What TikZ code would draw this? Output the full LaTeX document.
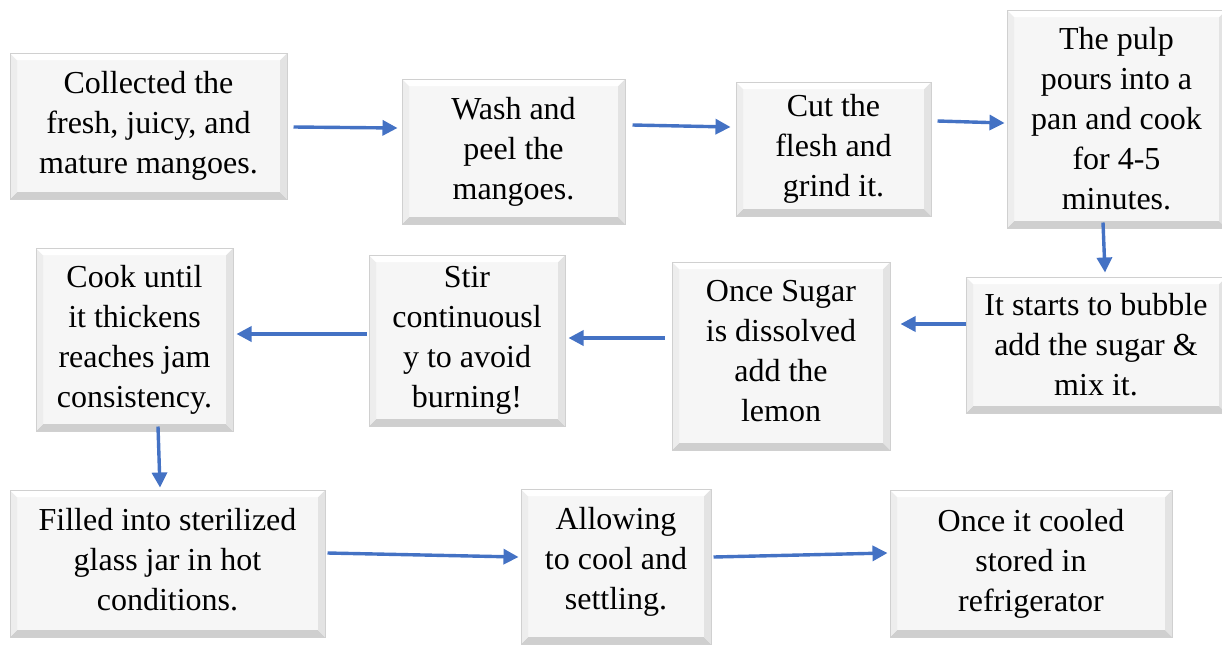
\documentclass[tikz,border=0pt]{standalone}
\usepackage{fontspec}
\setmainfont{Liberation Serif}
\usetikzlibrary{arrows.meta,calc,positioning}
\definecolor{flowblue}{RGB}{68,114,196}
\definecolor{boxfill}{RGB}{246,246,246}
\tikzset{
  stage/.style={draw={rgb,255:red,208;green,208;blue,208}, line width=1pt, fill=boxfill, inner sep=0pt,
    align=center, font=\fontsize{32}{40}\selectfont,
    path picture={
      \fill[gray!38] (path picture bounding box.south west) -- (path picture bounding box.south east)
        -- ([shift={(-7pt,7pt)}]path picture bounding box.south east) -- ([shift={(7pt,7pt)}]path picture bounding box.south west) -- cycle;
      \fill[gray!22] (path picture bounding box.south east) -- (path picture bounding box.north east)
        -- ([shift={(-7pt,-7pt)}]path picture bounding box.north east) -- ([shift={(-7pt,7pt)}]path picture bounding box.south east) -- cycle;
      \fill[gray!14] (path picture bounding box.south west) -- (path picture bounding box.north west)
        -- ([shift={(7pt,-7pt)}]path picture bounding box.north west) -- ([shift={(7pt,7pt)}]path picture bounding box.south west) -- cycle;
      \fill[white] (path picture bounding box.north west) -- (path picture bounding box.north east)
        -- ([shift={(-7pt,-7pt)}]path picture bounding box.north east) -- ([shift={(7pt,-7pt)}]path picture bounding box.north west) -- cycle;
    }},
  flow/.style={-{Triangle[length=15pt,width=15pt]}, line width=3.4pt, flowblue}
}
\begin{document}
\begin{tikzpicture}[x=1pt,y=-1pt]
  \useasboundingbox (0,0) rectangle (1222,646);
  % first row
  \node[stage, minimum width=277pt, minimum height=146pt] (collect) at (148.5,126) {Collected the\\fresh, juicy, and\\mature mangoes.};
  \node[stage, minimum width=223pt, minimum height=145pt] (wash) at (513.5,151.5) {Wash and\\peel the\\mangoes.};
  \node[stage, minimum width=195pt, minimum height=134pt] (cut) at (833.5,149) {Cut the\\flesh and\\grind it.};
  \node[stage, minimum width=219pt, minimum height=218pt] (pulp) at (1116.5,119) {The pulp\\pours into a\\pan and cook\\for 4-5\\minutes.};
  % second row
  \node[stage, minimum width=260pt, minimum height=136pt] (bubble) at (1096,345) {It starts to bubble\\add the sugar \&\\mix it.};
  \node[stage, minimum width=218pt, minimum height=188pt] (sugar) at (781,356) {Once Sugar\\is dissolved\\add the\\lemon\\[-30pt]};
  \node[stage, minimum width=196pt, minimum height=171pt] (stir) at (467,340.5) {Stir\\continuousl\\y to avoid\\burning!};
  \node[stage, minimum width=197pt, minimum height=183pt] (cook) at (134.5,339.5) {Cook until\\it thickens\\reaches jam\\consistency.};
  % third row
  \node[stage, minimum width=315pt, minimum height=147pt] (fill) at (167.5,563.5) {Filled into sterilized\\glass jar in hot\\conditions.\\[-32pt]};
  \node[stage, minimum width=190pt, minimum height=155pt] (cool) at (616,566.5) {Allowing\\to cool and\\settling.\\[-24pt]};
  \node[stage, minimum width=282pt, minimum height=147pt] (store) at (1031,563.5) {Once it cooled\\stored in\\refrigerator};
  % connectors
  \draw[flow] ([xshift=6pt,yshift=-1pt]collect.east) -- ([xshift=-4pt,yshift=23.5pt]wash.west);
  \draw[flow] ([xshift=7pt,yshift=26.5pt]wash.east) -- ([xshift=-5pt,yshift=22pt]cut.west);
  \draw[flow] ([xshift=6pt,yshift=28pt]cut.east) -- ([xshift=-2pt,yshift=-4pt]pulp.west);
  \draw[flow] ([xshift=-13.5pt,yshift=6pt]pulp.south) -- ([xshift=9pt,yshift=4pt]bubble.north);
  \draw[flow] ([yshift=21pt]bubble.west) -- ([xshift=10pt,yshift=32pt]sugar.east);
  \draw[flow] ([xshift=-7pt,yshift=18pt]sugar.west) -- ([xshift=3pt,yshift=2.5pt]stir.east);
  \draw[flow] ([xshift=-2pt,yshift=6.5pt]stir.west) -- ([xshift=3pt,yshift=5.5pt]cook.east);
  \draw[flow] ([xshift=23.5pt,yshift=5pt]cook.south) -- ([xshift=-7.5pt,yshift=2pt]fill.north);
  \draw[flow] ([xshift=2pt,yshift=10.5pt]fill.east) -- ([xshift=-2pt,yshift=9.5pt]cool.west);
  \draw[flow] ([xshift=2pt,yshift=9.5pt]cool.east) -- ([xshift=-2pt,yshift=10.5pt]store.west);
\end{tikzpicture}
\end{document}
